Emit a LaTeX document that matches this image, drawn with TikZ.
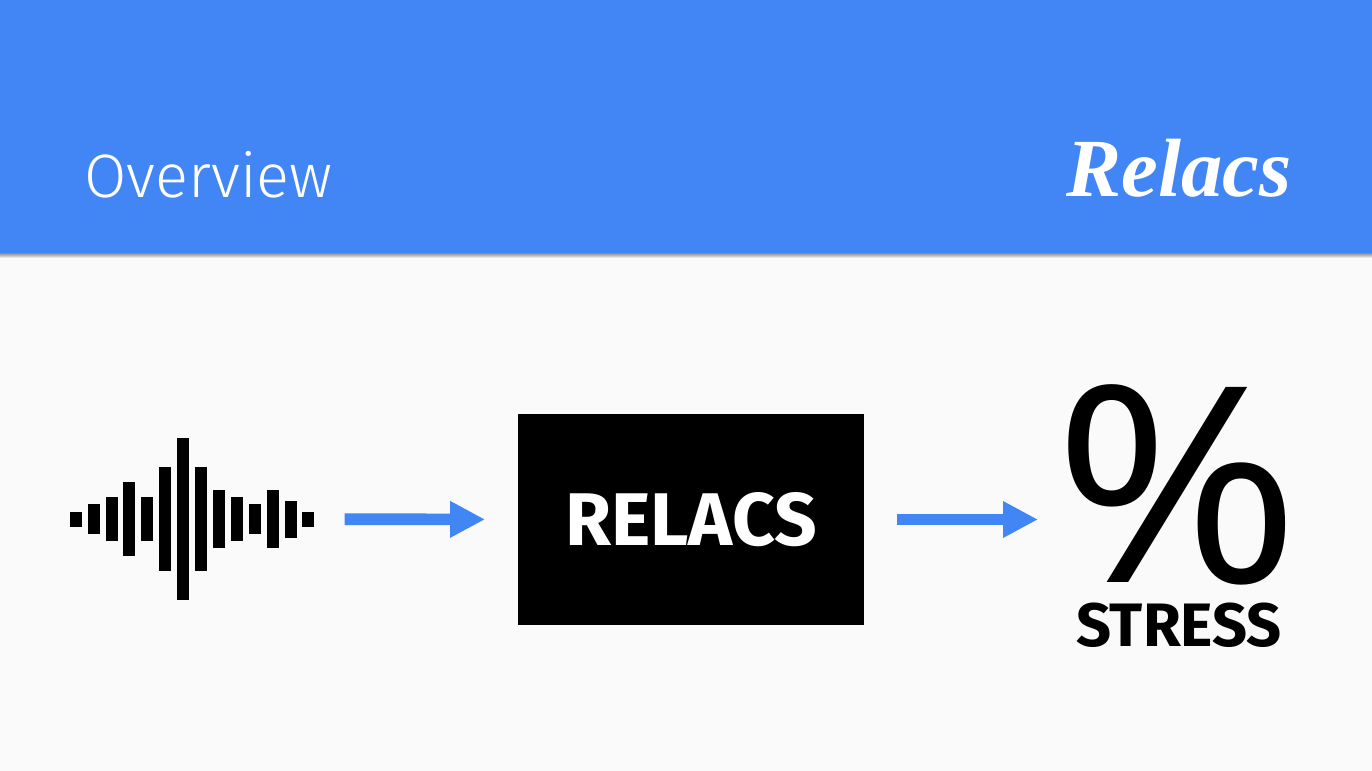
\documentclass[tikz,border=0pt]{standalone}
\usepackage{fontspec}
\setmainfont{Fira Sans}
\newfontfamily\titlefont{Fira Sans Light}
\newfontfamily\logofont{Liberation Serif}
\newfontfamily\pctfont{Open Sans}
\usetikzlibrary{arrows.meta,positioning,calc}
\definecolor{headblue}{HTML}{4285F4}
\definecolor{pagegrey}{HTML}{FAFAFA}

\begin{document}
\begin{tikzpicture}[
  x=0.75pt, y=-0.75pt,
  bar/.style={fill=black, inner sep=0pt, minimum width=9pt},
  flow/.style={-{Triangle[length=26.25pt, width=25.7pt]}, draw=headblue, line width=8.8pt},
  label/.style={inner sep=0pt, font=\fontsize{46pt}{46pt}\selectfont\bfseries}
]

\useasboundingbox (0,0) rectangle (1372,771);
\fill[pagegrey] (0,0) rectangle (1372,771);
\shade[top color=black!45, bottom color=pagegrey] (0,253) rectangle (1372,258);
\fill[headblue] (0,0) rectangle (1372,253);

\node[inner sep=0pt, text=white, font=\titlefont\fontsize{46pt}{46pt}\selectfont] (title) at (208.5,175) {Overview};
\node[inner sep=0pt, text=white, font=\logofont\fontsize{62pt}{62pt}\selectfont\bfseries\itshape] (logo) at (1179,168) {Relacs};

% waveform
\foreach \i/\h in {1/14.7, 2/29.7, 3/44, 4/74, 5/44, 6/103.7, 7/162, 8/103.7, 9/58.3, 10/44, 11/29.7, 12/58.3, 13/36.7, 14/14.7}
  \node[bar, minimum height=\h*0.75pt] (b\i) at ({75.7+17.9*(\i-1)},519.3) {};

\node[fill=black, inner sep=0pt, minimum width=259.5pt, minimum height=158.25pt, text=white, font=\fontsize{56pt}{56pt}\selectfont\bfseries] (relacs) at (691,519.5) {RELACS};

\node[inner sep=0pt, font=\pctfont\fontsize{205pt}{205pt}\selectfont] (pct) at (1177,485) {\scalebox{1.1}[1]{\%}};
\node[label] (stress) at (1179,625) {STRESS};
\coordinate (pctin) at (1038,519.5);

\draw[flow, shorten <=22.5pt, shorten >=24.5pt] (b14) -- (relacs);
\draw[flow, shorten <=24.75pt] (relacs.east) -- (pctin);

\end{tikzpicture}
\end{document}
